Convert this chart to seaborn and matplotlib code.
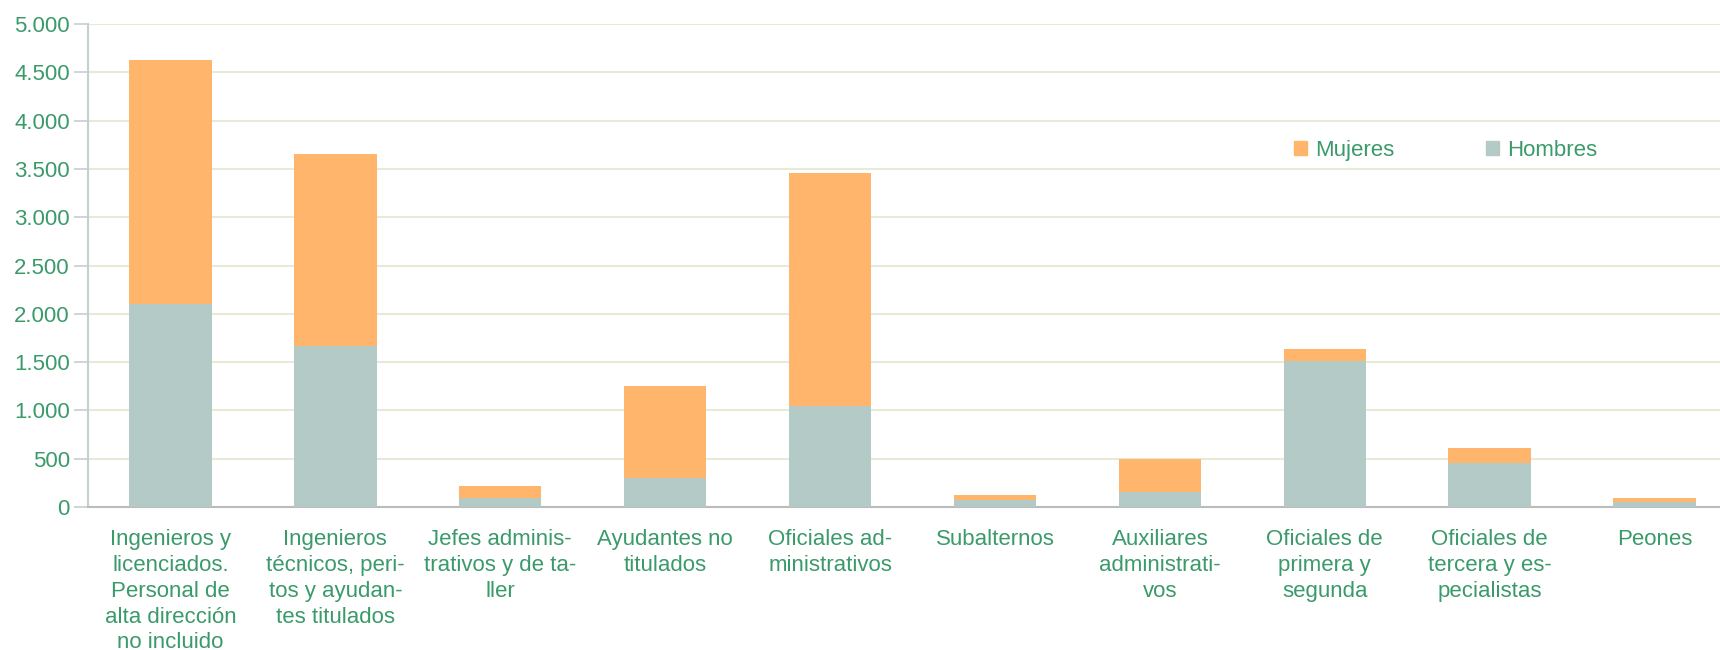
import numpy as np
import pandas as pd
import matplotlib
matplotlib.use("Agg")
import matplotlib.pyplot as plt
import seaborn as sns
from matplotlib.patches import Patch
from matplotlib.ticker import FuncFormatter, FixedLocator

categorias = [
    "Ingenieros y\nlicenciados.\nPersonal de\nalta dirección\nno incluido",
    "Ingenieros\ntécnicos, peri-\ntos y ayudan-\ntes titulados",
    "Jefes adminis-\ntrativos y de ta-\nller",
    "Ayudantes no\ntitulados",
    "Oficiales ad-\nministrativos",
    "Subalternos",
    "Auxiliares\nadministrati-\nvos",
    "Oficiales de\nprimera y\nsegunda",
    "Oficiales de\ntercera y es-\npecialistas",
    "Peones",
]
hombres = [2100, 1665, 97, 300, 1043, 73, 156, 1509, 453, 56]
mujeres = [2527, 1988, 116, 950, 2414, 48, 338, 125, 155, 34]

verde = "#3a9a6a"
naranja = "#ffb56b"
gris = "#b4cac6"

df = pd.DataFrame({"cat": categorias, "hombres": hombres, "mujeres": mujeres})
df["total"] = df["hombres"] + df["mujeres"]

sns.set_style("white")
plt.rcParams["font.family"] = ["Liberation Sans", "DejaVu Sans"]

fig = plt.figure(figsize=(17.2, 6.5), dpi=100)
ax = fig.add_axes([88 / 1720, 1 - 507 / 650, 1649 / 1720, 483 / 650])

# barra total (naranja) y encima la de hombres -> apilado
sns.barplot(data=df, x="cat", y="total", color=naranja, width=0.5,
            saturation=1, linewidth=0, ax=ax, zorder=3)
sns.barplot(data=df, x="cat", y="hombres", color=gris, width=0.5,
            saturation=1, linewidth=0, ax=ax, zorder=3)

ax.set_xlim(-0.5, 9.5)
ax.set_ylim(0, 5000)
ax.set_yticks(np.arange(0, 5001, 500))
ax.yaxis.set_major_formatter(FuncFormatter(lambda v, p: f"{int(v):,}".replace(",", ".")))
ax.grid(axis="y", color="#e6ebd6", linewidth=1.5, zorder=0)
ax.set_axisbelow(True)

ax.set_xlabel("")
ax.set_ylabel("")
ax.set_xticks(range(len(categorias)))
ax.set_xticklabels(categorias, linespacing=1.30)
ax.xaxis.set_minor_locator(FixedLocator(np.arange(-0.5, 10, 1)))
ax.tick_params(axis="x", which="major", length=0, pad=16, labelsize=16, labelcolor=verde)
ax.tick_params(axis="x", which="minor", length=10, width=1.2, color="#bbbbbb", direction="out")
ax.tick_params(axis="y", length=10, width=1.2, color="#c5d0d0", labelsize=16,
               labelcolor=verde, pad=3, left=True)

for s in ["top", "right"]:
    ax.spines[s].set_visible(False)
ax.spines["left"].set_color("#c5d0d0")
ax.spines["left"].set_linewidth(1.5)
ax.spines["bottom"].set_color("#bbbbbb")
ax.spines["bottom"].set_linewidth(1.5)

handles = [Patch(color=naranja, label="Mujeres"), Patch(color=gris, label="Hombres")]
fig.legend(handles=handles, loc="center left", bbox_to_anchor=(1294 / 1720, 1 - 150 / 650),
           ncol=2, frameon=False, fontsize=16, labelcolor=verde, handlelength=0.6,
           handleheight=0.6, handletextpad=0.36, columnspacing=4.1, borderpad=0,
           borderaxespad=0)

fig.savefig("out.png", dpi=100)
